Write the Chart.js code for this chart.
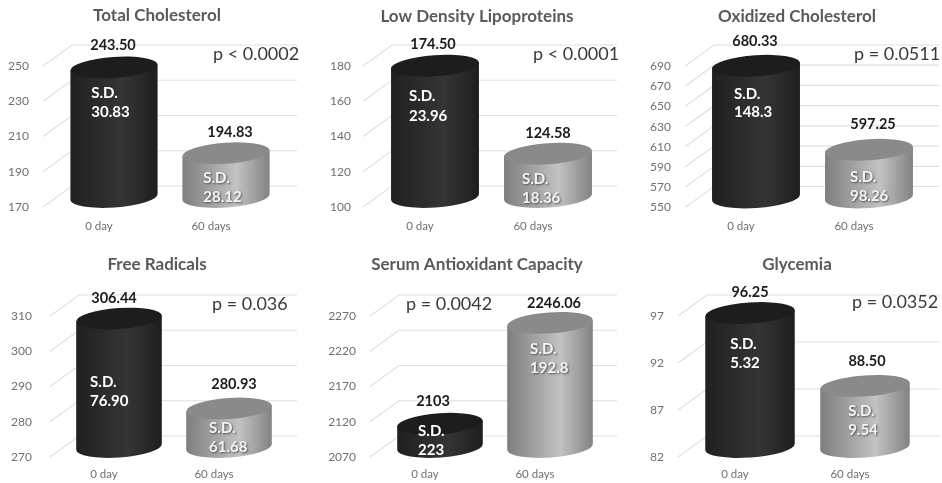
<!DOCTYPE html>
<html>
<head>
<meta charset="utf-8">
<title>Six panels</title>
<script src="https://cdn.jsdelivr.net/npm/chart.js@4"></script>
<style>
  html, body { margin: 0; padding: 0; background: #fff; }
  #wrap { position: relative; width: 942px; height: 483px; overflow: hidden; }
  canvas { position: absolute; filter: blur(0.4px); }
</style>
</head>
<body>
<div id="wrap"></div>
<script>
// data
const categories = ["0 day", "60 days"];
const titles = ["Total Cholesterol", "Low Density Lipoproteins", "Oxidized Cholesterol", "Free Radicals", "Serum Antioxidant Capacity", "Glycemia"];
const pValues = ["p < 0.0002", "p < 0.0001", "p = 0.0511", "p = 0.036", "p = 0.0042", "p = 0.0352"];
const day0 = [243.5, 174.5, 680.33, 306.44, 2103, 96.25];
const day60 = [194.83, 124.58, 597.25, 280.93, 2246.06, 88.5];
const day0Labels = ["243.50", "174.50", "680.33", "306.44", "2103", "96.25"];
const day60Labels = ["194.83", "124.58", "597.25", "280.93", "2246.06", "88.50"];
const sd0 = ["30.83", "23.96", "148.3", "76.90", "223", "5.32"];
const sd60 = ["28.12", "18.36", "98.26", "61.68", "192.8", "9.54"];
const yMins = [170, 100, 550, 270, 2070, 82];
const yMaxs = [250, 180, 690, 310, 2270, 97];
const ySteps = [20, 20, 20, 10, 50, 5];

// layout, page pixels: front plane of each 3d plot
const plotLefts = [43, 363.5, 684.5, 49, 370, 677.5];
const plotRights = [267, 589.5, 910.5, 269, 590, 907.5];
const plotTops = [66, 66, 66, 316, 316, 316];
const plotBottoms = [207, 207, 207.5, 457, 457, 457];
const tickRights = [29, 351, 671, 32, 356, 664];
const slantLefts = [43, 363, 685, 50, 370, 678];
const wallRights = [297, 617, 939, 297, 617, 940];
const titleX = [157, 477, 797, 157, 477, 797];
const titleY = [16, 17, 17, 265, 265, 265];
const pX = [213, 533, 854, 212, 406, 852];
const pY = [54, 54, 54, 304, 304, 302];
// S.D. text: indent from the cylinder's left edge, y of the two lines below its top
const sdIndent0 = [21, 18, 22, 14, 21, 25];
const sdIndent60 = [21, 18, 25, 23, 23, 28];
const sdOffsets0 = [[26, 45], [30, 50], [28, 46], [64, 83], [7, 26], [31, 50]];
const sdOffsets60 = [[25, 44], [25, 44], [27, 46], [20, 39], [26, 45], [25, 44]];
// value text: dx from the cylinder centre, dy from its top
const valueNudge0 = [[-1, -22], [-2, -21], [-1, -24], [-5, -20], [-7, -22], [0, -21]];
const valueNudge60 = [[4, -21], [0, -20], [4, -25], [5, -24], [4, -20], [2, -25]];

const DEPTH_X = 15, DEPTH_Y = 10, WALL_DY = 21, SLANT_DX = 29, RY = 10.5, TILT = -0.07;
const FONT = "Lato, 'Open Sans', sans-serif";

function drawCylinder(ctx, el, shades, topColor) {
  const cx = el.x + DEPTH_X;
  const top = el.y - DEPTH_Y;
  const bottom = el.base - DEPTH_Y;
  const rx = el.width / 2;
  const dx = rx * Math.cos(TILT);
  const dy = rx * Math.sin(TILT);

  const grad = ctx.createLinearGradient(cx - rx, 0, cx + rx, 0);
  shades.forEach((s) => grad.addColorStop(s[0], s[1]));

  ctx.beginPath();
  ctx.moveTo(cx - dx, top - dy);
  ctx.lineTo(cx - dx, bottom - dy);
  ctx.ellipse(cx, bottom, rx, RY, TILT, Math.PI, 0, true);
  ctx.lineTo(cx + dx, top + dy);
  ctx.closePath();
  ctx.fillStyle = grad;
  ctx.fill();

  ctx.beginPath();
  ctx.ellipse(cx, top, rx, RY, TILT, 0, Math.PI * 2);
  ctx.fillStyle = topColor;
  ctx.fill();
}

const cylinders3d = {
  id: "cylinders3d",
  beforeDatasetsDraw(chart, args, opts) {
    const ctx = chart.ctx;
    const i = opts.index;
    const yScale = chart.scales.y;
    const ox = chart.canvas.getBoundingClientRect().left;

    // floor-to-wall slant plus back wall line for each tick
    ctx.save();
    ctx.strokeStyle = "#e0e0e0";
    ctx.lineWidth = 1.2;
    yScale.ticks.forEach((t) => {
      const y = yScale.getPixelForValue(t.value);
      ctx.beginPath();
      ctx.moveTo(slantLefts[i] - ox, y);
      ctx.lineTo(slantLefts[i] + SLANT_DX - ox, y - WALL_DY);
      ctx.lineTo(wallRights[i] - ox, y - WALL_DY);
      ctx.stroke();
    });

    const bars = chart.getDatasetMeta(0).data;
    drawCylinder(ctx, bars[0], [[0, "#202020"], [0.6, "#353535"], [1, "#1e1e1e"]], bars[0].options.backgroundColor);
    drawCylinder(ctx, bars[1], [[0, "#7e7e7e"], [0.62, "#c2c2c2"], [1, "#828282"]], bars[1].options.backgroundColor);
    ctx.restore();
    return false; // native flat bars are replaced by the cylinders
  },
  afterDraw(chart, args, opts) {
    const ctx = chart.ctx;
    const i = opts.index;
    const bars = chart.getDatasetMeta(0).data;
    const box = chart.canvas.getBoundingClientRect();
    const ox = box.left, oy = box.top;

    ctx.save();
    ctx.textBaseline = "middle";

    ctx.textAlign = "center";
    ctx.fillStyle = "#5a5a5a";
    ctx.font = "bold 17px " + FONT;
    ctx.fillText(titles[i], titleX[i] - ox, titleY[i] - oy);

    ctx.textAlign = "left";
    ctx.fillStyle = "#3a3a3a";
    ctx.font = "18px " + FONT;
    ctx.fillText(pValues[i], pX[i] - ox, pY[i] - oy);

    const valueLabels = [day0Labels[i], day60Labels[i]];
    const valueNudges = [valueNudge0[i], valueNudge60[i]];
    const sdLabels = [sd0[i], sd60[i]];
    const sdOffsets = [sdOffsets0[i], sdOffsets60[i]];
    const sdIndents = [sdIndent0[i], sdIndent60[i]];
    bars.forEach((el, b) => {
      const cx = el.x + DEPTH_X;
      const top = el.y - DEPTH_Y;
      ctx.textAlign = "center";
      ctx.fillStyle = "#1c1c1c";
      ctx.font = "bold 14.5px " + FONT;
      ctx.fillText(valueLabels[b], cx + valueNudges[b][0], top + valueNudges[b][1]);

      ctx.textAlign = "left";
      ctx.fillStyle = b === 0 ? "#fff" : "#f4f4f4";
      ctx.font = "bold 15px " + FONT;
      if (b === 1) {
        ctx.shadowColor = "rgba(60,60,60,0.8)";
        ctx.shadowBlur = 2;
        ctx.shadowOffsetX = 1;
        ctx.shadowOffsetY = 1;
      }
      const sx = cx - el.width / 2 + sdIndents[b];
      ctx.fillText("S.D.", sx, top + sdOffsets[b][0]);
      ctx.fillText(sdLabels[b], sx, top + sdOffsets[b][1]);
      ctx.shadowColor = "transparent";
    });
    ctx.restore();
  },
};

const wrap = document.getElementById("wrap");

titles.forEach((title, i) => {
  const col = i % 3, row = Math.floor(i / 3);
  const frameX = col * 314, frameY = row * 245;
  const frameW = col === 2 ? 942 - frameX : 314;
  const frameH = row === 0 ? 245 : 238;

  const canvas = document.createElement("canvas");
  canvas.width = frameW;
  canvas.height = frameH;
  canvas.style.left = frameX + "px";
  canvas.style.top = frameY + "px";
  canvas.style.width = frameW + "px";
  canvas.style.height = frameH + "px";
  wrap.appendChild(canvas);

  const xAxisH = 26;

  new Chart(canvas.getContext("2d"), {
    type: "bar",
    data: {
      labels: categories,
      datasets: [{
        label: title,
        data: [day0[i], day60[i]],
        base: yMins[i],
        backgroundColor: ["#1d1d1d", "#8a8a8a"],
        barPercentage: 0.78,
        categoryPercentage: 1,
      }],
    },
    options: {
      responsive: false,
      animation: false,
      devicePixelRatio: 1,
      layout: {
        padding: {
          left: 0,
          top: plotTops[i] - frameY,
          right: frameX + frameW - plotRights[i],
          bottom: frameY + frameH - plotBottoms[i] - xAxisH,
        },
      },
      scales: {
        x: {
          grid: { display: false, drawTicks: false },
          border: { display: false },
          afterFit: (s) => { s.height = xAxisH; },
          ticks: { color: "#6f6f6f", font: { family: FONT, size: 11.5 }, padding: row === 0 ? 12 : 10, maxRotation: 0 },
        },
        y: {
          min: yMins[i],
          max: yMaxs[i],
          grid: { display: false, drawTicks: false },
          border: { display: false },
          afterFit: (s) => { s.width = plotLefts[i] - frameX; },
          ticks: {
            stepSize: ySteps[i],
            color: "#6f6f6f",
            font: { family: FONT, size: 12 },
            padding: plotLefts[i] - tickRights[i],
            callback: (v) => String(v),
          },
        },
      },
      plugins: {
        legend: { display: false },
        tooltip: { enabled: false },
        cylinders3d: { index: i },
      },
    },
    plugins: [cylinders3d],
  });
});
</script>
</body>
</html>
